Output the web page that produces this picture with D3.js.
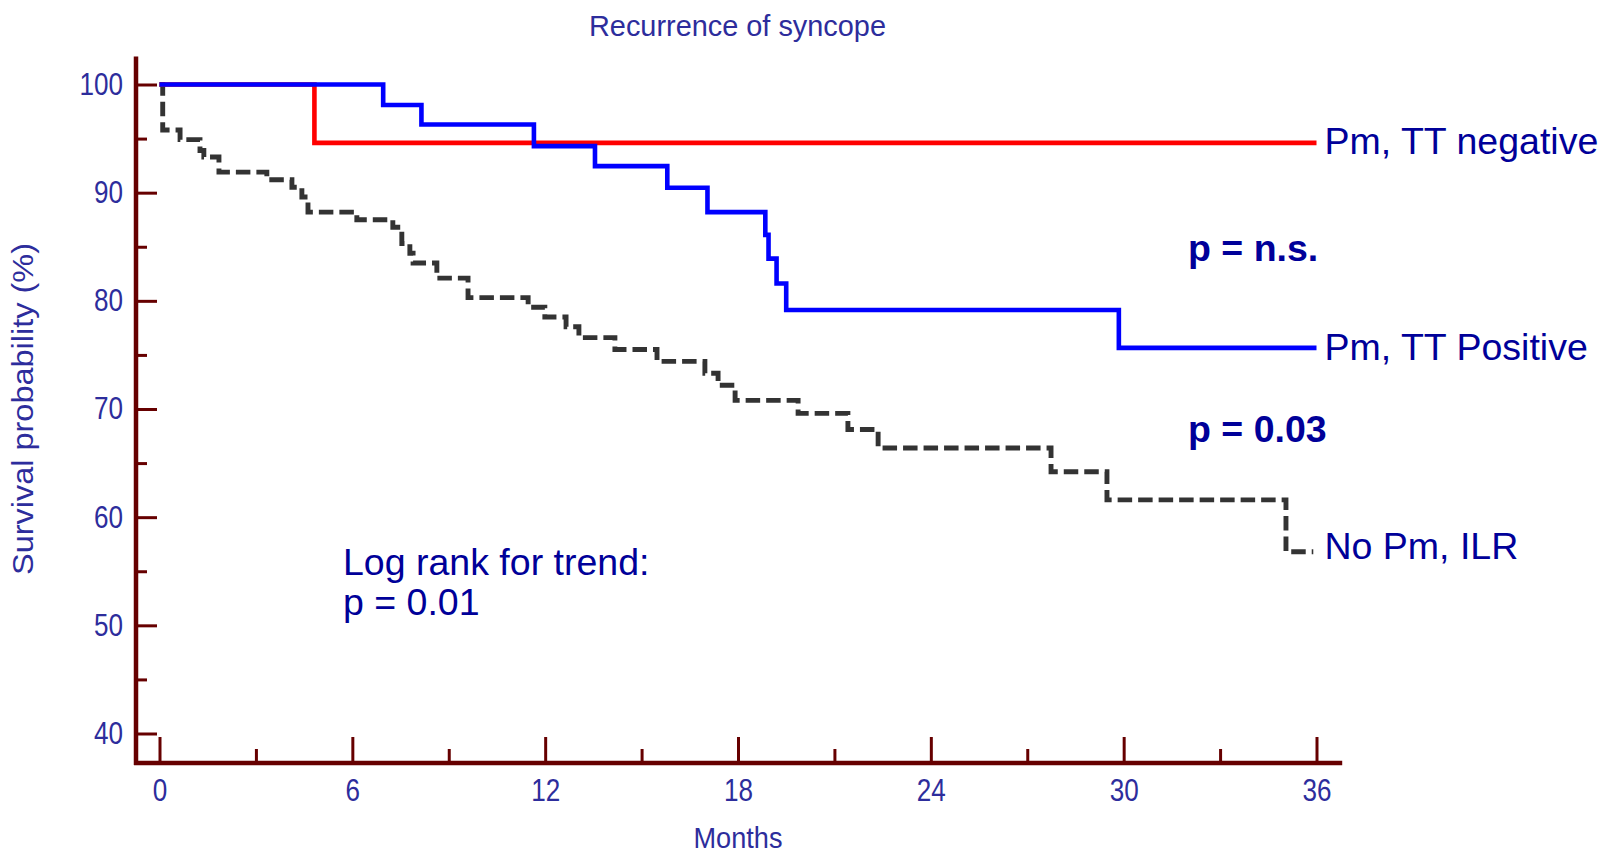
<!doctype html>
<html>
<head>
<meta charset="utf-8">
<style>
	body { margin: 0; background: #fff; }
	text { font-family: "Liberation Sans", Arial, sans-serif; }
	.tick line { stroke: #660000; stroke-width: 3; }
	.tick text { fill: #2d2d9c; font-size: 31px; }
	.lbl { fill: #2d2d9c; font-size: 30px; }
	.note { fill: #000099; font-size: 37.5px; }
</style>
<script src="https://d3js.org/d3.v7.min.js"></script>
</head>
<body>
<script>

var monthTicks = [0, 6, 12, 18, 24, 30, 36];
var monthMinor = [3, 9, 15, 21, 27, 33];
var survTicks = [40, 50, 60, 70, 80, 90, 100];
var survMinor = [45, 55, 65, 75, 85, 95];

var seriesNames = ["Pm, TT negative", "Pm, TT Positive", "No Pm, ILR"];
var seriesColors = ["#ff0000", "#0000ff", "#333333"];

// Pm, TT negative
var negTime = [0, 4.82, 36];
var negSurv = [100, 94.6, 94.6];

// Pm, TT positive
var posTime = [0, 6.96, 8.15, 11.65, 13.55, 15.8, 17.05, 18.85, 18.95, 19.2, 19.5, 29.85, 36];
var posSurv = [100, 98.1, 96.3, 94.3, 92.45, 90.45, 88.2, 86.1, 83.9, 81.6, 79.15, 75.65, 75.65];

// No Pm, ILR
var ilrTime = [0, 0.1, 0.64, 1.26, 1.38, 1.85, 3.34, 4.12, 4.43, 4.62, 6.14, 7.26, 7.54, 7.79, 7.89, 8.63, 9.6,
	11.47, 11.99, 12.65, 13.05, 14.17, 15.48, 16.97, 17.38, 17.91, 19.87, 21.42, 22.36, 27.74, 29.48, 35.05, 35.9];
var ilrSurv = [100, 95.8, 94.9, 93.9, 93.3, 91.9, 91.2, 90.5, 89.6, 88.2, 87.5, 86.8, 85.3, 84.4, 83.5, 82.1, 80.3,
	79.4, 78.5, 77.6, 76.6, 75.5, 74.4, 73.3, 72.2, 70.8, 69.6, 68.1, 66.4, 64.2, 61.6, 56.8, 56.8];

var W = 1605, H = 855;

var svg = d3.select("body").append("svg")
	.attr("width", W)
	.attr("height", H);

var x = d3.scaleLinear().domain([0, 36]).range([159.5, 1316.5]);
var y = d3.scaleLinear().domain([40, 100]).range([733.5, 84.5]);

var axisX = 136, axisY = 763;

// curves
var series = [
	{ t: negTime, s: negSurv },
	{ t: posTime, s: posSurv },
	{ t: ilrTime, s: ilrSurv }
];

var line = d3.line()
	.x(function(d) { return x(d[0]); })
	.y(function(d) { return y(d[1]); })
	.curve(d3.curveStepAfter);

[2, 0, 1].forEach(function(i) {
	var pts = series[i].t.map(function(t, j) { return [t, series[i].s[j]]; });
	svg.append("path")
		.attr("d", line(pts))
		.attr("fill", "none")
		.attr("stroke", seriesColors[i])
		.attr("stroke-width", i == 2 ? 4.9 : 4.6)
		.attr("stroke-dasharray", i == 2 ? "14.5,6" : null);
});

// axes
var yMinor = svg.append("g")
	.attr("transform", "translate(" + axisX + ",0)")
	.call(d3.axisLeft(y).tickValues(survMinor).tickSize(-11).tickSizeOuter(0).tickFormat(""));
var yMajor = svg.append("g")
	.attr("transform", "translate(" + axisX + ",0)")
	.call(d3.axisLeft(y).tickValues(survTicks).tickSize(-21).tickSizeOuter(0).tickPadding(13));

var xMinor = svg.append("g")
	.attr("transform", "translate(0," + axisY + ")")
	.call(d3.axisBottom(x).tickValues(monthMinor).tickSize(-14).tickSizeOuter(0).tickFormat(""));
var xMajor = svg.append("g")
	.attr("transform", "translate(0," + axisY + ")")
	.call(d3.axisBottom(x).tickValues(monthTicks).tickSize(-26).tickSizeOuter(0).tickPadding(16));

svg.selectAll(".domain").remove();

svg.selectAll(".tick text")
	.attr("textLength", function() { return this.textContent.length * 14.5; })
	.attr("lengthAdjust", "spacingAndGlyphs");

svg.append("line")
	.attr("x1", axisX).attr("x2", axisX)
	.attr("y1", y(102.6)).attr("y2", axisY + 2)
	.attr("stroke", "#660000").attr("stroke-width", 4.5);
svg.append("line")
	.attr("x1", axisX - 2).attr("x2", x(36.8))
	.attr("y1", axisY).attr("y2", axisY)
	.attr("stroke", "#660000").attr("stroke-width", 4.5);

// titles
svg.append("text")
	.attr("class", "lbl")
	.attr("x", 737.5).attr("y", 36)
	.attr("text-anchor", "middle")
	.attr("textLength", 297).attr("lengthAdjust", "spacingAndGlyphs")
	.text("Recurrence of syncope");

svg.append("text")
	.attr("class", "lbl")
	.attr("x", 738).attr("y", 848)
	.attr("text-anchor", "middle")
	.attr("textLength", 89).attr("lengthAdjust", "spacingAndGlyphs")
	.text("Months");

svg.append("text")
	.attr("class", "lbl")
	.attr("transform", "translate(33,409) rotate(-90)")
	.attr("text-anchor", "middle")
	.style("font-size", "29px")
	.attr("textLength", 332).attr("lengthAdjust", "spacingAndGlyphs")
	.text("Survival probability (%)");

// series labels at the end of each curve
var labelDy = [11, 12, 7];
series.forEach(function(d, i) {
	svg.append("text")
		.attr("class", "note")
		.attr("x", x(36) + 8)
		.attr("y", y(d.s[d.s.length - 1]) + labelDy[i])
		.text(seriesNames[i]);
});

// p values
svg.append("text").attr("class", "note").style("font-weight", "bold")
	.attr("x", 1188).attr("y", 260.5).text("p = n.s.");
svg.append("text").attr("class", "note").style("font-weight", "bold")
	.attr("x", 1188).attr("y", 441.5).text("p = 0.03");
svg.append("text").attr("class", "note")
	.attr("x", 343).attr("y", 575).text("Log rank for trend:");
svg.append("text").attr("class", "note")
	.attr("x", 343).attr("y", 615).text("p = 0.01");

</script>
</body>
</html>
